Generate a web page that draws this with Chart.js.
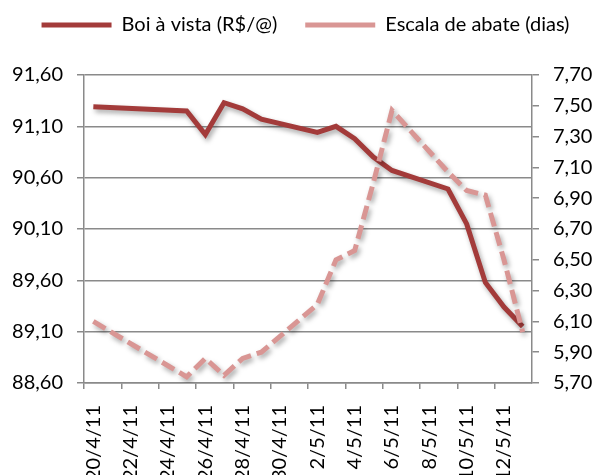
<!DOCTYPE html>
<html>
<head>
<meta charset="utf-8">
<script src="https://cdn.jsdelivr.net/npm/chart.js@4/dist/chart.umd.min.js"></script>
<style>
  html, body { margin: 0; padding: 0; background: #fff; overflow: hidden; }
  #caixa { width: 595px; height: 490px; }
</style>
</head>
<body>
<div id="caixa"><canvas id="grafico"></canvas></div>
<script>
// Dias (eixo X) - um por dia, do 20/4 ao 13/5
const dias = ['20/4/11', '21/4/11', '22/4/11', '23/4/11', '24/4/11', '25/4/11', '26/4/11', '27/4/11',
  '28/4/11', '29/4/11', '30/4/11', '1/5/11', '2/5/11', '3/5/11', '4/5/11', '5/5/11', '6/5/11',
  '7/5/11', '8/5/11', '9/5/11', '10/5/11', '11/5/11', '12/5/11', '13/5/11'];

// Boi à vista (R$/@) - eixo esquerdo
const boiVista = [91.29, null, null, null, null, 91.25, 91.02, 91.33, 91.27, 91.17, null, null,
  91.04, 91.10, 90.98, 90.80, 90.67, null, null, 90.49, 90.15, 89.58, 89.34, 89.15];

// Escala de abate (dias) - eixo direito
const escalaAbate = [6.10, null, null, null, null, 5.74, 5.86, 5.75, 5.86, 5.90, null, null,
  6.21, 6.50, 6.56, 7.00, 7.47, null, null, 7.07, 6.95, 6.92, 6.50, 6.03];

const fonte = 'Lato, "Open Sans", sans-serif';
const cinza = '#8a8a8a';
const virgula = v => Number(v).toFixed(2).replace('.', ',');

// sombra leve por baixo das linhas
const sombra = {
  id: 'sombra',
  beforeDatasetsDraw(chart) {
    const c = chart.ctx;
    c.save();
    c.shadowColor = 'rgba(0,0,0,0.35)';
    c.shadowBlur = 5;
    c.shadowOffsetX = 2;
    c.shadowOffsetY = 3;
  },
  afterDatasetsDraw(chart) {
    chart.ctx.restore();
  }
};

// sobe a legenda e puxa um pouco para a direita
const moveLegenda = {
  id: 'moveLegenda',
  afterLayout(chart) {
    const l = chart.legend;
    l.top -= 30; l.bottom -= 30;
    l.left += 8; l.right += 8;
  }
};

new Chart(document.getElementById('grafico'), {
  type: 'line',
  data: {
    labels: dias,
    datasets: [{
      label: 'Boi à vista (R$/@)',
      data: boiVista,
      yAxisID: 'y',
      borderColor: '#a33b3a',
      backgroundColor: '#a33b3a',
      borderWidth: 5,
      pointRadius: 0,
      spanGaps: true,
      tension: 0,
      order: 2
    }, {
      label: 'Escala de abate (dias)',
      data: escalaAbate,
      yAxisID: 'y1',
      borderColor: '#d99694',
      backgroundColor: '#d99694',
      borderWidth: 5,
      borderDash: [14, 6],
      pointRadius: 0,
      spanGaps: true,
      tension: 0,
      order: 1
    }]
  },
  options: {
    responsive: true,
    maintainAspectRatio: false,
    animation: false,
    layout: { padding: { top: 17, left: 0, right: 0, bottom: 0 } },
    plugins: {
      tooltip: { enabled: false },
      legend: {
        position: 'top',
        labels: {
          usePointStyle: true,
          pointStyle: 'line',
          pointStyleWidth: 70,
          boxHeight: 20,
          padding: 28,
          color: '#000',
          font: { family: fonte, size: 20 },
          sort: (a, b) => a.datasetIndex - b.datasetIndex
        }
      }
    },
    scales: {
      x: {
        offset: true,
        afterFit: s => { s.height = 107; },
        grid: {
          offset: true,
          drawOnChartArea: false,
          tickLength: 6,
          lineWidth: 1.5,
          color: ctx => (ctx.index % 2 === 0 ? cinza : 'rgba(0,0,0,0)')
        },
        border: { color: cinza, width: 1.5 },
        ticks: {
          autoSkip: false,
          minRotation: 90,
          maxRotation: 90,
          padding: 16,
          color: '#000',
          font: { family: fonte, size: 20 },
          callback: function (v, i) { return i % 2 === 0 ? dias[i] : ''; }
        }
      },
      y: {
        position: 'left',
        min: 88.6,
        max: 91.6,
        afterFit: s => { s.width = 84; },
        ticks: {
          stepSize: 0.5,
          padding: 14,
          color: '#000',
          font: { family: fonte, size: 20 },
          callback: virgula
        },
        grid: { color: cinza, lineWidth: 1.5, tickLength: 7 },
        border: { color: cinza, width: 1.5 }
      },
      y1: {
        position: 'right',
        min: 5.7,
        max: 7.7,
        afterFit: s => { s.width = 63; },
        ticks: {
          stepSize: 0.2,
          padding: 14,
          color: '#000',
          font: { family: fonte, size: 20 },
          callback: virgula
        },
        grid: { drawOnChartArea: false, color: cinza, lineWidth: 1.5, tickLength: 7 },
        border: { color: cinza, width: 1.5 }
      }
    }
  },
  plugins: [sombra, moveLegenda]
});
</script>
</body>
</html>
